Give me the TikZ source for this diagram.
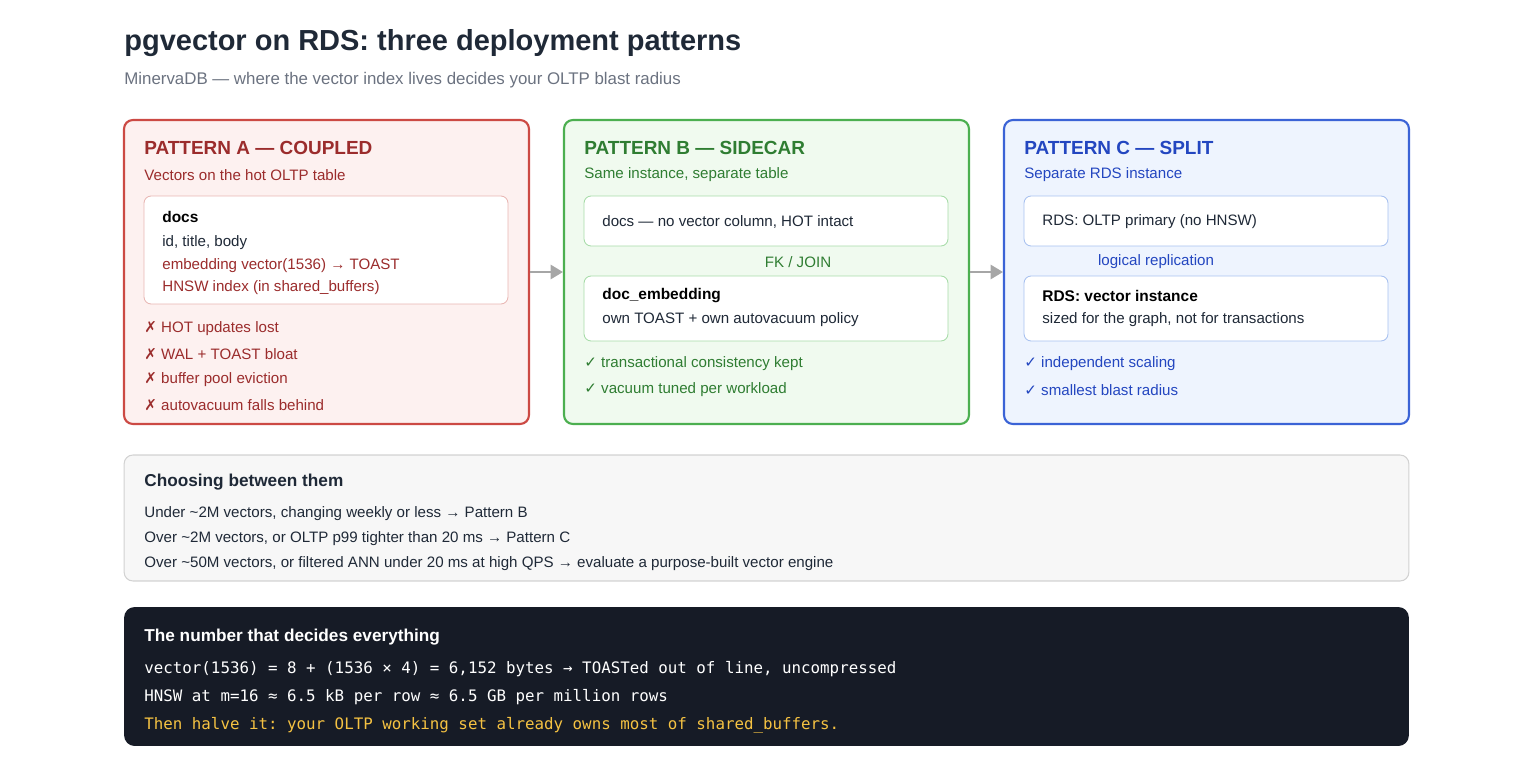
\documentclass[tikz,border=0pt]{standalone}
\usepackage{fontspec}
\setmainfont{Liberation Sans}
\setmonofont{DejaVu Sans Mono}
\newfontfamily\symf{DejaVu Sans}
\usepackage{tikz}
\usetikzlibrary{positioning, arrows.meta}
\definecolor{redc}{HTML}{9B2C2C}
\definecolor{redb}{HTML}{CC4A44}
\definecolor{redf}{HTML}{FDF1F0}
\definecolor{redi}{HTML}{E9B7B4}
\definecolor{grnc}{HTML}{2F7D32}
\definecolor{grnb}{HTML}{4CAF50}
\definecolor{grnf}{HTML}{F0FAEF}
\definecolor{grni}{HTML}{A8DCA9}
\definecolor{bluc}{HTML}{2346C0}
\definecolor{blub}{HTML}{3B63D6}
\definecolor{bluf}{HTML}{EEF4FE}
\definecolor{blui}{HTML}{A9C2F0}
\definecolor{inkc}{HTML}{1F2937}
\definecolor{grayc}{HTML}{6B7280}
\definecolor{darkf}{HTML}{161B26}
\definecolor{yelc}{HTML}{F5C242}
\newcommand{\xm}{{\symf\char"2717}}
\newcommand{\ck}{{\symf\char"2713}}
\begin{document}
\begin{tikzpicture}[x=0.02cm, y=-0.02cm,
  every node/.style={inner sep=0pt, font=\fontsize{8.6}{10}\selectfont, anchor=west},
  panel/.style={draw, line width=1.2pt, rounded corners=5pt, anchor=center, minimum width=8.1cm, minimum height=6.08cm},
  inner/.style={draw, fill=white, line width=0.5pt, rounded corners=4pt, anchor=center, minimum width=7.28cm},
  head/.style={font=\fontsize{10.8}{12}\selectfont\bfseries},
  tname/.style={font=\fontsize{8.8}{10}\selectfont\bfseries, text=black},
  mono/.style={font=\fontsize{9}{10}\selectfont\ttfamily},
  link/.style={-{Triangle[length=7pt,width=8pt]}, draw=gray!70, line width=1.3pt}]
\useasboundingbox (0,0) rectangle (1538,784);

% Title
\node[font=\fontsize{16.5}{18}\selectfont\bfseries, text=inkc] (title) at (124,43) {pgvector on RDS: three deployment patterns};
\node[font=\fontsize{9.6}{11}\selectfont, text=grayc] (subtitle) at (124,80) {MinervaDB — where the vector index lives decides your OLTP blast radius};

% Pattern A
\node[panel, draw=redb, fill=redf] (boxA) at (326.5,272) {};
\node[head, text=redc] (headA) at (144,148) {PATTERN A — COUPLED};
\node[text=redc] (subA) at (144,175) {Vectors on the hot OLTP table};
\node[inner, draw=redi, minimum height=2.16cm] (docsA) at (326,250) {};
\node[tname] at (162,217) {docs};
\node[text=inkc] at (162,243) {id, title, body};
\node[text=redc] at (162,266) {embedding vector(1536) → TOAST};
\node[text=redc] at (162,288) {HNSW index (in shared\_buffers)};
\node[text=redc] at (144,329) {\xm\ HOT updates lost};
\node[text=redc] at (144,354) {\xm\ WAL + TOAST bloat};
\node[text=redc] at (144,380) {\xm\ buffer pool eviction};
\node[text=redc] at (144,405) {\xm\ autovacuum falls behind};

% Pattern B
\node[panel, draw=grnb, fill=grnf] (boxB) at (766.5,272) {};
\node[head, text=grnc] (headB) at (584,148) {PATTERN B — SIDECAR};
\node[text=grnc] (subB) at (584,175) {Same instance, separate table};
\node[inner, draw=grni, minimum height=1cm] (docsB) at (766,221) {};
\node[text=inkc] at (602,222) {docs — no vector column, HOT intact};
\node[text=grnc, anchor=center] (fk) at (798,262) {FK / JOIN};
\node[inner, draw=grni, minimum height=1.3cm] (embB) at (766,308.5) {};
\node[tname] at (602,296) {doc\_embedding};
\node[text=inkc] at (602,320) {own TOAST + own autovacuum policy};
\node[text=grnc] at (584,364) {\ck\ transactional consistency kept};
\node[text=grnc] at (584,390) {\ck\ vacuum tuned per workload};

% Pattern C
\node[panel, draw=blub, fill=bluf] (boxC) at (1206.5,272) {};
\node[head, text=bluc] (headC) at (1024,148) {PATTERN C — SPLIT};
\node[text=bluc] (subC) at (1024,175) {Separate RDS instance};
\node[inner, draw=blui, minimum height=1cm] (primC) at (1206,221) {};
\node[text=inkc] at (1042,222) {RDS: OLTP primary (no HNSW)};
\node[text=bluc, anchor=center] (repl) at (1156,262) {logical replication};
\node[inner, draw=blui, minimum height=1.3cm] (vecC) at (1206,308.5) {};
\node[tname] at (1042,296) {RDS: vector instance};
\node[text=inkc] at (1042,320) {sized for the graph, not for transactions};
\node[text=bluc] at (1024,364) {\ck\ independent scaling};
\node[text=bluc] at (1024,390) {\ck\ smallest blast radius};

% Arrows
\draw[link] (boxA.east) -- (boxB.west);
\draw[link] (boxB.east) -- (boxC.west);

% Choosing
\node[draw=gray!35, fill=gray!6, line width=0.6pt, rounded corners=5pt, anchor=center, minimum width=25.7cm, minimum height=2.52cm] (choose) at (766.5,518) {};
\node[font=\fontsize{9.8}{11}\selectfont\bfseries, text=inkc] at (144,482) {Choosing between them};
\node[text=inkc] at (144,514) {Under \textasciitilde 2M vectors, changing weekly or less → Pattern B};
\node[text=inkc] at (144,539) {Over \textasciitilde 2M vectors, or OLTP p99 tighter than 20 ms → Pattern C};
\node[text=inkc] at (144,564) {Over \textasciitilde 50M vectors, or filtered ANN under 20 ms at high QPS → evaluate a purpose-built vector engine};

% Number box
\node[fill=darkf, rounded corners=6pt, anchor=center, minimum width=25.7cm, minimum height=2.78cm] (number) at (766.5,676.5) {};
\node[font=\fontsize{9.8}{11}\selectfont\bfseries, text=white] at (144,637) {The number that decides everything};
\node[mono, text=white] at (144,669) {vector(1536) = 8 + (1536 × 4) = 6,152 bytes → TOASTed out of line, uncompressed};
\node[mono, text=white] at (144,697) {HNSW at m=16 ≈ 6.5 kB per row ≈ 6.5 GB per million rows};
\node[mono, text=yelc] at (144,725) {Then halve it: your OLTP working set already owns most of shared\_buffers.};
\end{tikzpicture}
\end{document}
